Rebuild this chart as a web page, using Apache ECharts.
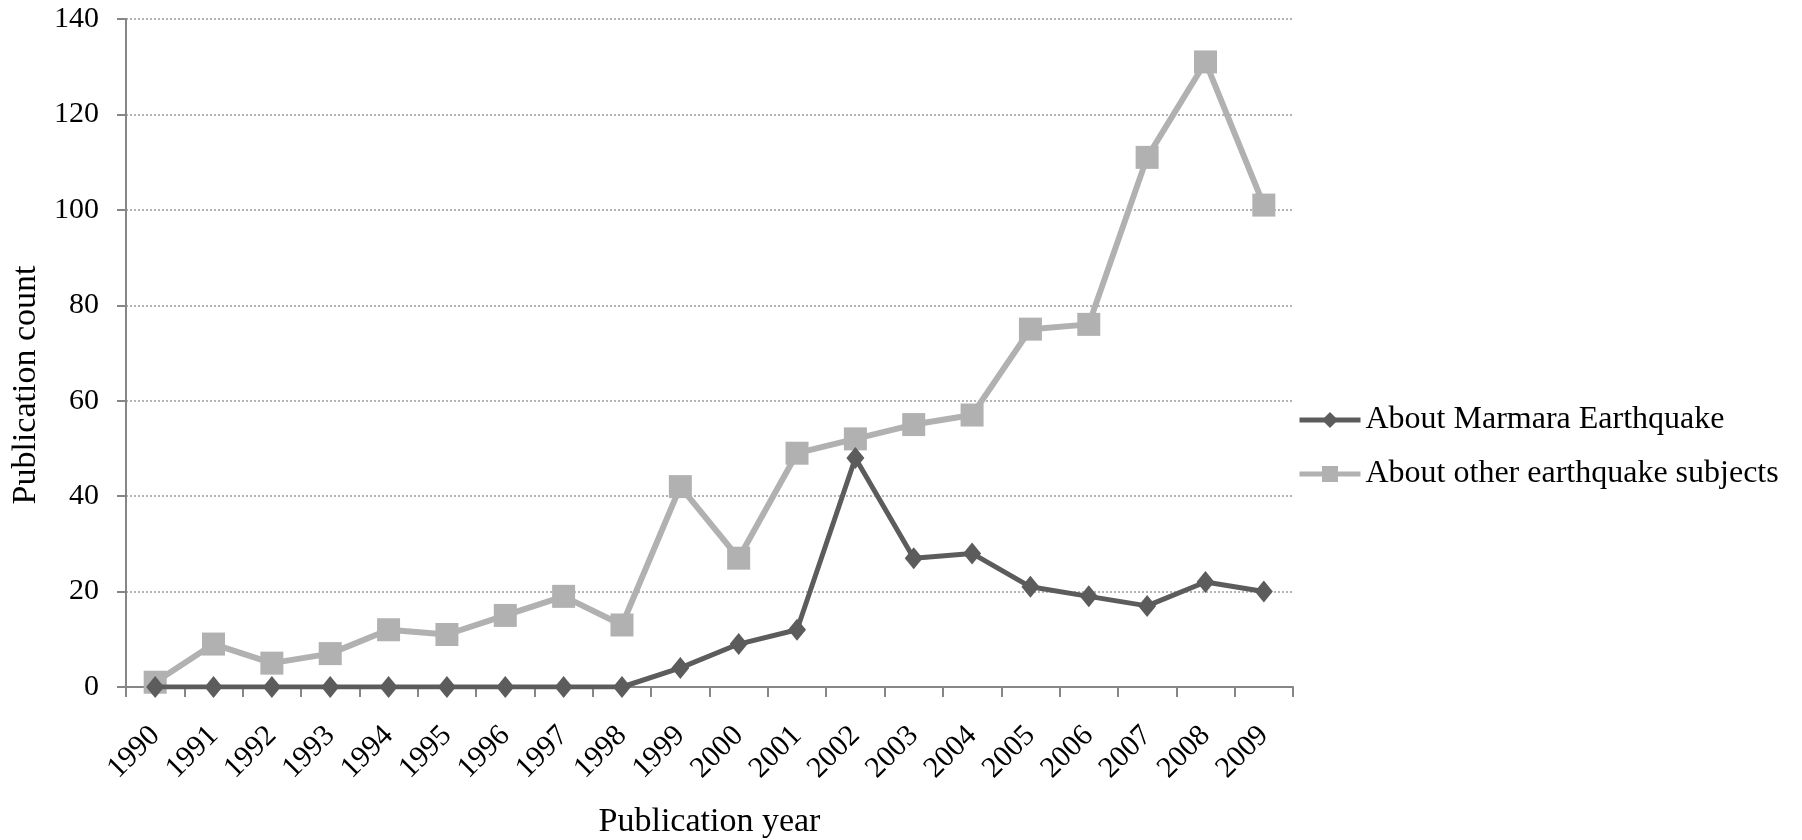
<!DOCTYPE html>
<html><head><meta charset="utf-8">
<script src="https://cdn.jsdelivr.net/npm/echarts@6/dist/echarts.min.js"></script>
<style>html,body{margin:0;padding:0;background:#fff}#c{width:1802px;height:840px}</style>
</head><body><div id="c"></div>
<script>
const years = ['1990','1991','1992','1993','1994','1995','1996','1997','1998','1999','2000','2001','2002','2003','2004','2005','2006','2007','2008','2009'];
const marmara = [0,0,0,0,0,0,0,0,0,4,9,12,48,27,28,21,19,17,22,20];
const other = [1,9,5,7,12,11,15,19,13,42,27,49,52,55,57,75,76,111,131,101];
const yTicks = [0,20,40,60,80,100,120,140];

const FONT = '"Liberation Serif", "DejaVu Serif", serif';
const chart = echarts.init(document.getElementById('c'));
chart.setOption({
  animation: false,
  backgroundColor: '#fff',
  textStyle: {fontFamily: FONT, color: '#000'},
  grid: {left: 126, right: 509, top: 19, bottom: 153, containLabel: false, outerBoundsMode: 'none'},
  legend: {
    orient: 'vertical', left: 1297, top: 402, padding: 0, itemGap: 18, itemWidth: 61, itemHeight: 20,
    lineStyle: {width: 5},
    textStyle: {fontFamily: FONT, fontSize: 32, color: '#000', lineHeight: 36},
    data: ['About Marmara Earthquake', 'About other earthquake subjects']
  },
  xAxis: {
    type: 'category', data: years, boundaryGap: true,
    name: 'Publication year', nameLocation: 'middle', nameGap: 118,
    nameTextStyle: {fontFamily: FONT, fontSize: 34, color: '#000'},
    axisLine: {lineStyle: {color: '#868686', width: 2}},
    axisTick: {show: true, length: 10, interval: 0, lineStyle: {color: '#868686', width: 2}},
    axisLabel: {rotate: 45, interval: 0, fontFamily: FONT, fontSize: 30, color: '#000', margin: 44}
  },
  yAxis: {
    type: 'value', min: 0, max: 140, interval: 20,
    name: 'Publication count', nameLocation: 'middle', nameGap: 62,
    nameTextStyle: {fontFamily: FONT, fontSize: 34, color: '#000', padding: [0, 64, 0, 0]},
    axisLine: {show: true, lineStyle: {color: '#868686', width: 2}},
    axisTick: {show: true, length: 9, lineStyle: {color: '#868686', width: 2}},
    axisLabel: {fontFamily: FONT, fontSize: 30, color: '#000', margin: 27,
      formatter: v => yTicks.includes(v) ? String(v) : ''},
    splitLine: {show: true, lineStyle: {color: '#9a9a9a', type: [2,2], width: 1.5}}
  },
  series: [
    {
      name: 'About Marmara Earthquake', type: 'line', data: marmara, z: 3,
      symbol: 'diamond', symbolSize: [18, 22],
      lineStyle: {color: '#5c5c5c', width: 5},
      itemStyle: {color: '#5c5c5c'}
    },
    {
      name: 'About other earthquake subjects', type: 'line', data: other, z: 2,
      symbol: 'rect', symbolSize: 23,
      lineStyle: {color: '#b1b1b1', width: 6},
      itemStyle: {color: '#b1b1b1'}
    }
  ]
});
</script></body></html>
